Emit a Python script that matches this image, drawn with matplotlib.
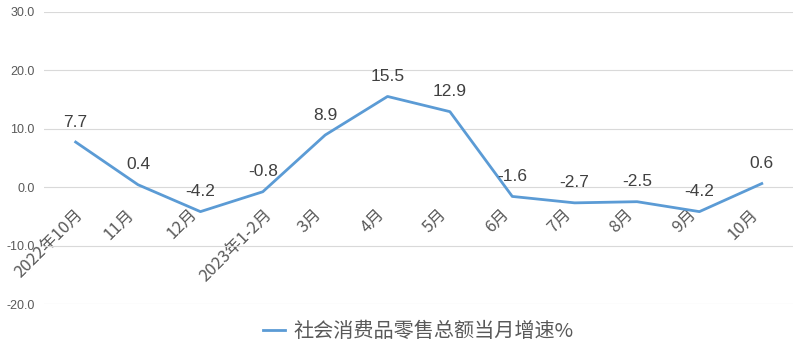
import matplotlib
matplotlib.use("Agg")
import matplotlib.pyplot as plt
from matplotlib.transforms import ScaledTranslation

# data
months = ["2022年10月", "11月", "12月", "2023年1-2月", "3月", "4月", "5月",
          "6月", "7月", "8月", "9月", "10月"]
growth = [7.7, 0.4, -4.2, -0.8, 8.9, 15.5, 12.9, -1.6, -2.7, -2.5, -4.2, 0.6]
series_name = "社会消费品零售总额当月增速%"
yticks = [-20, -10, 0, 10, 20, 30]

plt.rcParams["font.family"] = ["Noto Sans CJK SC", "DejaVu Sans"]

fig = plt.figure(figsize=(8, 3.53), dpi=100)
ax = fig.add_axes([0.0556, 0.1388, 0.9356, 0.8281])

x = list(range(len(months)))
line, = ax.plot(x, growth, color="#5B9BD5", lw=2.0, label=series_name)

for xi, v in zip(x, growth):
    ax.annotate(f"{v:.1f}", (xi, v), xytext=(0, 9), textcoords="offset points",
                ha="center", va="bottom", fontsize=12.5, color="#404040",
                family=["Liberation Sans", "DejaVu Sans"])

ax.set_xlim(-0.5, len(months) - 0.5)
ax.set_ylim(-20, 30)
ax.set_yticks(yticks)
ax.set_yticklabels([f"{t:.1f}" for t in yticks], color="#595959", fontsize=9,
                   family=["Liberation Sans", "DejaVu Sans"])
ax.grid(axis="y", color="#D9D9D9", lw=0.8)
ax.set_axisbelow(True)

# category labels sit along the zero line, like the Excel original
ax.spines["bottom"].set_position(("data", 0))
for s in ax.spines.values():
    s.set_visible(False)
ax.set_xticks(x)
ax.set_xticklabels(months, rotation=45, ha="right", va="bottom",
                   rotation_mode="anchor", fontsize=12, color="#595959")
ax.tick_params(axis="both", length=0)
ax.tick_params(axis="x", pad=22)
ax.tick_params(axis="y", pad=7)

# Excel nudges the long rotated labels a little to the right
for lab in ax.get_xticklabels():
    dx = max(0, len(lab.get_text()) - 3) * 1.5 / 72
    lab.set_transform(lab.get_transform() + ScaledTranslation(dx, 0, fig.dpi_scale_trans))

fig.legend(handles=[line], loc="center", bbox_to_anchor=(0.523, 0.062),
           frameon=False, fontsize=14.5, handlelength=1.1, handletextpad=0.4,
           labelcolor="#595959")

fig.savefig("out.png", dpi=100)
